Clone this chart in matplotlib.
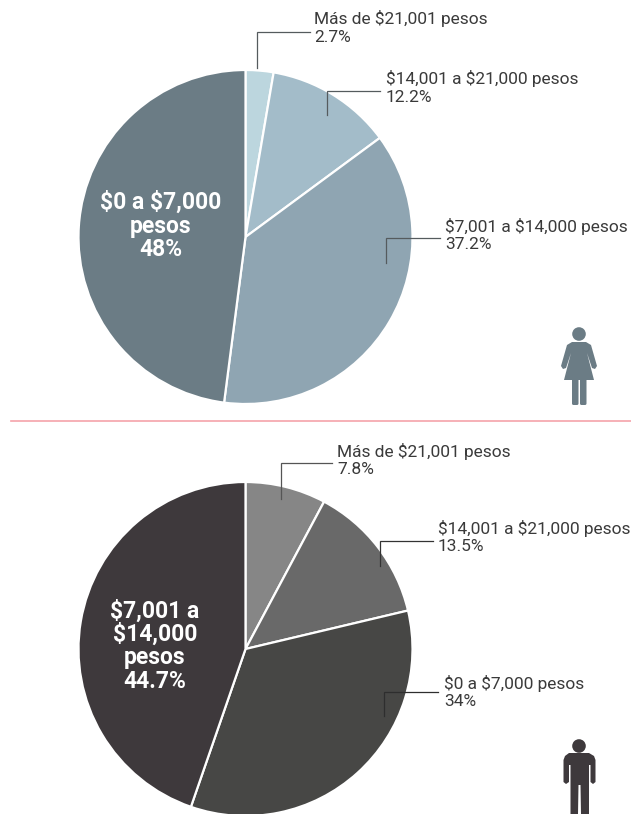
import matplotlib
matplotlib.use("Agg")
import matplotlib.pyplot as plt
from matplotlib.patches import Circle, Polygon, FancyBboxPatch

plt.rcParams['font.family'] = ['Roboto', 'DejaVu Sans']

mujeres_vals = [2.7, 12.2, 37.2, 48]
mujeres_cols = ['#bcd6de', '#a3bcc9', '#8fa5b2', '#6b7c85']
mujeres_labels = ['Más de $21,001 pesos\n2.7%', '$14,001 a $21,000 pesos\n12.2%',
                  '$7,001 a $14,000 pesos\n37.2%']
mujeres_big = '$0 a $7,000\npesos\n48%'

hombres_vals = [7.8, 13.5, 34, 44.7]
hombres_cols = ['#868686', '#696969', '#474745', '#3e393c']
hombres_labels = ['Más de $21,001 pesos\n7.8%', '$14,001 a $21,000 pesos\n13.5%',
                  '$0 a $7,000 pesos\n34%']
hombres_big = '$7,001 a\n$14,000\npesos\n44.7%'

H = 814


def Y(y):
    return H - y


fig = plt.figure(figsize=(6.31, 8.14), dpi=100)
ax = fig.add_axes([0, 0, 1, 1])


def draw_pie(vals, cols, cy):
    ax.pie(vals, colors=cols, startangle=90, counterclock=False, center=(245.5, Y(cy)), radius=167,
           wedgeprops={'edgecolor': 'white', 'linewidth': 1.6}, frame=True)


def leader(pts, col):
    ax.plot([p[0] for p in pts], [Y(p[1]) for p in pts], color=col, lw=0.9, solid_joinstyle='miter')


draw_pie(mujeres_vals, mujeres_cols, 237)
draw_pie(hombres_vals, hombres_cols, 649)
ax.set_aspect('auto')
ax.set_xlim(0, 631)
ax.set_ylim(0, H)
ax.axis('off')

# leaders
leader([(257, 68), (257, 32), (310, 32)], '#555b5e')
leader([(327, 115), (327, 91), (380, 91)], '#555b5e')
leader([(386, 263), (386, 238), (440, 238)], '#555b5e')
leader([(281, 499), (281, 463), (332, 463)], '#555555')
leader([(380, 566), (380, 541), (433, 541)], '#333333')
leader([(384, 716), (384, 692), (438, 692)], '#2e2e2e')

# labels
txt = dict(fontsize=12.5, color='#3a3a3a', va='center', ha='left', linespacing=1.22, parse_math=False)
ax.text(314, Y(27.5), mujeres_labels[0], **txt)
ax.text(386, Y(87.5), mujeres_labels[1], **txt)
ax.text(445, Y(235), mujeres_labels[2], **txt)
ax.text(337, Y(460), hombres_labels[0], **txt)
ax.text(438, Y(537), hombres_labels[1], **txt)
ax.text(444, Y(692), hombres_labels[2], **txt)

big = dict(fontsize=16.5, color='white', fontweight='bold', ha='center', va='center', linespacing=1.02,
           parse_math=False)
ax.text(161, Y(226), mujeres_big, **big)
ax.text(155, Y(646), hombres_big, **big)

# red divider
ax.plot([11, 631], [Y(421), Y(421)], color='#f5a3aa', lw=1.2)

# woman icon
wc = '#6b7c85'
ax.add_patch(Circle((579, Y(334)), 6.8, color=wc, lw=0))
ax.add_patch(Polygon([(572, Y(342)), (586, Y(342)), (591, Y(345)), (597, Y(366)), (595, Y(369)), (592, Y(368)),
                      (587, Y(353)), (594, Y(380)), (564, Y(380)), (571, Y(353)), (566, Y(368)), (563, Y(369)),
                      (561, Y(366)), (567, Y(345))],
                     closed=True, color=wc, lw=0))
ax.add_patch(FancyBboxPatch((572, Y(405)), 6.5, 27, boxstyle='round,pad=0,rounding_size=1.5', color=wc, lw=0))
ax.add_patch(FancyBboxPatch((580, Y(405)), 6.5, 27, boxstyle='round,pad=0,rounding_size=1.5', color=wc, lw=0))

# man icon
mc = '#3e393c'
ax.add_patch(Circle((579, Y(746)), 6.8, color=mc, lw=0))
ax.add_patch(Polygon([(569, Y(753)), (589, Y(753)), (594, Y(756)), (595.5, Y(760)), (595.5, Y(782)), (593, Y(784)),
                      (590.5, Y(782)), (590.5, Y(765)), (589, Y(765)),
                      (589, Y(814)), (581, Y(814)), (580.5, Y(785)), (578.5, Y(785)), (578, Y(814)), (570.5, Y(814)),
                      (570.5, Y(765)), (569, Y(765)), (569, Y(782)), (566, Y(784)), (563.5, Y(782)),
                      (563.5, Y(760)), (565, Y(756))],
                     closed=True, color=mc, lw=0))

fig.savefig('out.png', dpi=100)
